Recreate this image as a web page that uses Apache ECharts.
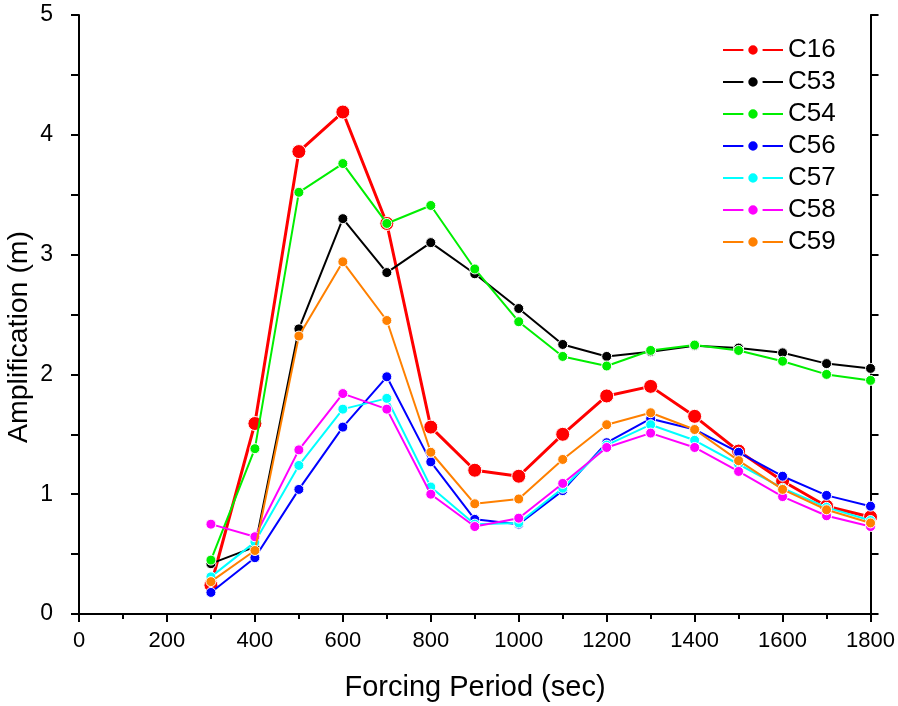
<!DOCTYPE html>
<html>
<head>
<meta charset="utf-8">
<script src="https://cdn.jsdelivr.net/npm/echarts@6/dist/echarts.min.js"></script>
<style>
  html, body { margin: 0; padding: 0; background: #fff; }
  #chart { width: 898px; height: 706px; }
</style>
</head>
<body>
<div id="chart"></div>
<script>
// Forcing periods (sec)
const periods = [300, 400, 500, 600, 700, 800, 900, 1000, 1100, 1200, 1300, 1400, 1500, 1600, 1700, 1800];

// Amplification (m) per gauge
const c16 = [0.24, 1.59, 3.86, 4.19, 3.26, 1.56, 1.20, 1.15, 1.50, 1.82, 1.90, 1.65, 1.36, 1.11, 0.90, 0.81];
const c53 = [0.42, 0.56, 2.38, 3.30, 2.85, 3.10, 2.84, 2.55, 2.25, 2.15, 2.19, 2.24, 2.22, 2.18, 2.09, 2.05];
const c54 = [0.45, 1.38, 3.52, 3.76, 3.26, 3.41, 2.88, 2.44, 2.15, 2.07, 2.20, 2.245, 2.20, 2.11, 2.00, 1.95];
const c56 = [0.18, 0.47, 1.04, 1.56, 1.98, 1.27, 0.79, 0.75, 1.03, 1.43, 1.63, 1.54, 1.35, 1.15, 0.99, 0.90];
const c57 = [0.31, 0.60, 1.24, 1.71, 1.80, 1.06, 0.75, 0.76, 1.05, 1.41, 1.58, 1.45, 1.25, 1.05, 0.89, 0.78];
const c58 = [0.75, 0.645, 1.37, 1.84, 1.71, 1.00, 0.73, 0.80, 1.09, 1.39, 1.51, 1.39, 1.19, 0.98, 0.82, 0.73];
const c59 = [0.27, 0.53, 2.32, 2.94, 2.45, 1.35, 0.92, 0.96, 1.29, 1.58, 1.68, 1.54, 1.28, 1.04, 0.87, 0.76];

const seriesNames = ['C16', 'C53', 'C54', 'C56', 'C57', 'C58', 'C59'];
const seriesValues = [c16, c53, c54, c56, c57, c58, c59];
const seriesColors = ['#ff0000', '#000000', '#00ee00', '#0000ff', '#00ffff', '#ff00ff', '#ff8000'];

const xTickLabels = ['0', '200', '400', '600', '800', '1000', '1200', '1400', '1600', '1800'];
const yTickLabels = ['0', '1', '2', '3', '4', '5'];

const xTitle = 'Forcing Period (sec)';
const yTitle = 'Amplification (m)';

const chart = echarts.init(document.getElementById('chart'), null, { renderer: 'canvas' });

const FONT = 'Liberation Sans, Arial, sans-serif';
const axisLine = { show: true, onZero: false, lineStyle: { color: '#000', width: 2 } };
const tick = { show: true, inside: false, length: 8, lineStyle: { color: '#000', width: 2 } };

const series = seriesNames.map((name, i) => ({
  name: name,
  type: 'line',
  data: periods.map((p, j) => [p, seriesValues[i][j]]),
  symbol: 'circle',
  symbolSize: i === 0 ? 14 : 10,
  showAllSymbol: true,
  lineStyle: { color: seriesColors[i], width: i === 0 ? 3 : 2 },
  itemStyle: { color: seriesColors[i], borderColor: '#fff', borderWidth: 1 },
  emphasis: { disabled: true },
  animation: false,
  z: 2 + i
}));

chart.setOption({
  animation: false,
  backgroundColor: '#fff',
  grid: { left: 79, right: 26, top: 15, bottom: 92, containLabel: false },
  // axis titles
  graphic: [{
    type: 'text',
    x: 475,
    y: 688,
    style: { text: xTitle, font: '29px Liberation Sans, Arial, sans-serif', fill: '#000', align: 'center', verticalAlign: 'middle' }
  }, {
    type: 'text',
    x: 19,
    y: 337,
    rotation: Math.PI / 2,
    style: { text: yTitle, font: '28.5px Liberation Sans, Arial, sans-serif', fill: '#000', align: 'center', verticalAlign: 'middle' }
  }],
  legend: {
    data: seriesNames,
    orient: 'vertical',
    left: 717,
    top: 32,
    itemWidth: 60,
    itemHeight: 18,
    itemGap: 6,
    itemStyle: { borderColor: '#fff', borderWidth: 5 },
    lineStyle: { width: 2 },
    textStyle: { fontFamily: FONT, fontSize: 26, color: '#000' }
  },
  xAxis: {
    type: 'value',
    min: 0,
    max: 1800,
    interval: 200,
    axisLine: axisLine,
    axisTick: tick,
    minorTick: { show: true, splitNumber: 2, length: 5, lineStyle: { color: '#000', width: 2 } },
    axisLabel: {
      margin: 16,
      fontFamily: FONT,
      fontSize: 22,
      color: '#000',
      formatter: v => xTickLabels[Math.round(v / 200)]
    },
    splitLine: { show: false }
  },
  yAxis: [{
    type: 'value',
    min: 0,
    max: 5,
    interval: 1,
    axisLine: axisLine,
    axisTick: tick,
    minorTick: { show: true, splitNumber: 2, length: 8, lineStyle: { color: '#000', width: 2 } },
    axisLabel: {
      margin: 26,
      fontFamily: FONT,
      fontSize: 23,
      color: '#000',
      formatter: v => yTickLabels[Math.round(v)]
    },
    splitLine: { show: false }
  }, {
    type: 'value',
    position: 'right',
    min: 0,
    max: 5,
    interval: 1,
    axisLine: axisLine,
    axisTick: tick,
    minorTick: { show: true, splitNumber: 2, length: 8, lineStyle: { color: '#000', width: 2 } },
    axisLabel: { show: false },
    splitLine: { show: false }
  }],
  series: series
});
</script>
</body>
</html>
